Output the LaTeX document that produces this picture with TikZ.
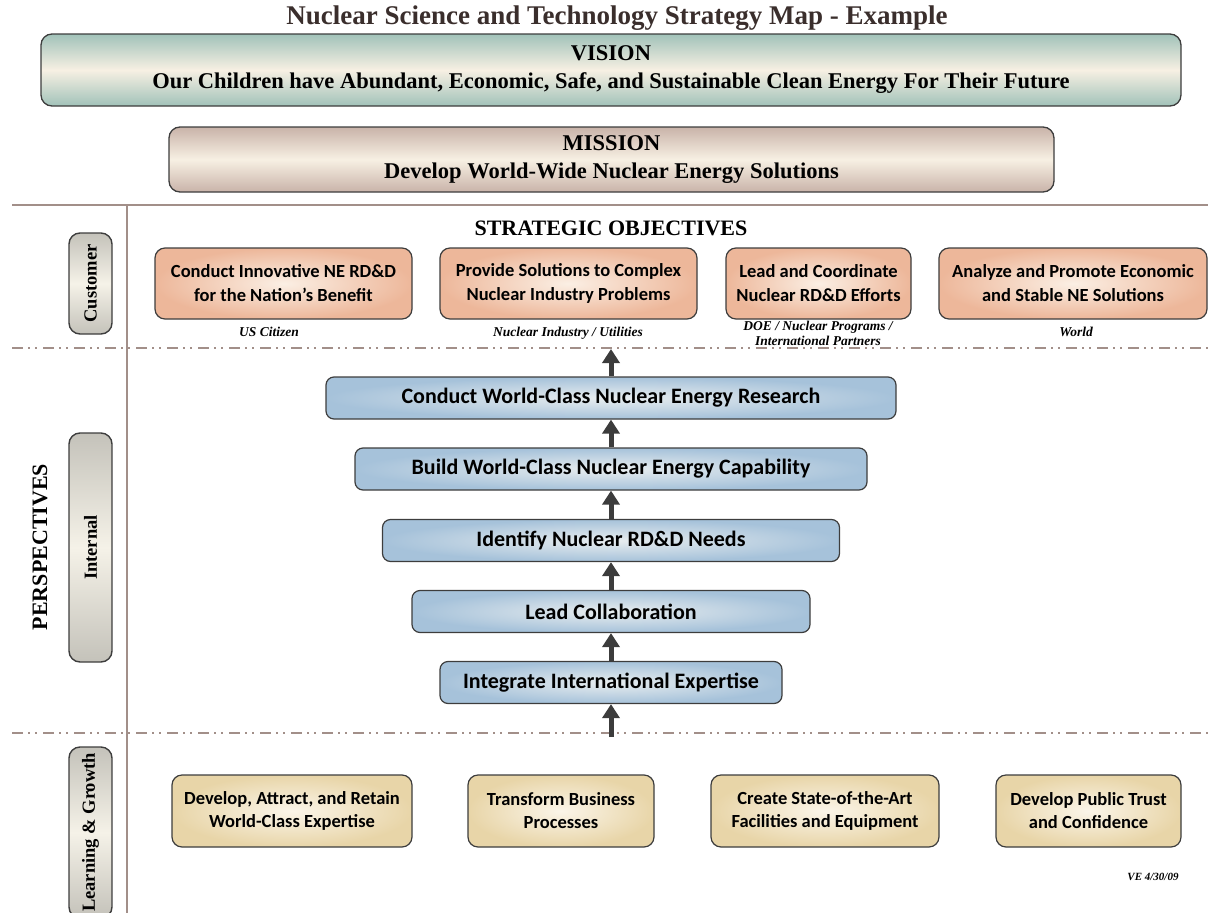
\documentclass[tikz,border=0pt]{standalone}
\usepackage{fontspec}
\setmainfont{Liberation Serif}
\newfontfamily\calfont{Carlito}
\usetikzlibrary{arrows.meta,positioning}

\definecolor{framegray}{HTML}{3D3D3D}
\definecolor{rulebrown}{HTML}{A28F89}
\definecolor{titlebrown}{HTML}{3A2E2C}
\definecolor{visionedge}{HTML}{A1C2B9}
\definecolor{missionedge}{HTML}{C9B3A9}
\definecolor{creamlight}{HTML}{F7F0E3}
\definecolor{custedge}{HTML}{EDB79A}
\definecolor{custmid}{HTML}{FBEFE4}
\definecolor{intedge}{HTML}{A6C2DA}
\definecolor{intmid}{HTML}{E8EDEF}
\definecolor{learnedge}{HTML}{E8D5A8}
\definecolor{learnmid}{HTML}{FBF5E9}
\definecolor{tabedge}{HTML}{C4C2BA}
\definecolor{tabmid}{HTML}{F5F2E8}
\definecolor{arrowgray}{HTML}{3C3C3C}

\tikzset{
  bigbox/.style={draw=framegray, line width=1.3pt, rounded corners=11pt, align=center,
    inner sep=0pt, font=\bfseries\fontsize{22.5}{28}\selectfont},
  objbox/.style={draw=framegray, line width=1.2pt, rounded corners=10pt, align=center,
    inner sep=0pt, minimum height=71pt, inner color=custmid, outer color=custedge,
    font=\calfont\bfseries\fontsize{18.5}{24}\selectfont},
  intbox/.style={draw=framegray, line width=1.2pt, rounded corners=8pt, align=center,
    inner sep=0pt, minimum height=42pt, inner color=intmid, outer color=intedge,
    font=\calfont\bfseries\fontsize{22}{26}\selectfont},
  growbox/.style={draw=framegray, line width=1.2pt, rounded corners=10pt, align=center,
    inner sep=0pt, minimum height=72pt, inner color=learnmid, outer color=learnedge,
    font=\calfont\bfseries\fontsize{18.5}{23}\selectfont},
  tabbox/.style={draw=framegray, line width=1.4pt, rounded corners=11pt, rotate=90,
    inner sep=0pt, minimum height=43pt, top color=tabedge, bottom color=tabedge,
    middle color=tabmid, font=\bfseries\fontsize{18.5}{22}\selectfont},
  capt/.style={align=center, inner sep=0pt, font=\bfseries\itshape\fontsize{13.5}{15}\selectfont},
  sepline/.style={rulebrown, line width=1.3pt,
    dash pattern=on 11pt off 5pt on 2pt off 5pt on 2pt off 6pt},
  uparrow/.style={arrowgray, line width=5pt, -{Triangle[width=17pt,length=14pt]}}
}

\begin{document}
\begin{tikzpicture}[x=1pt,y=-1pt]
    \useasboundingbox (0,0) rectangle (1208,913);
    % title
    \node[inner sep=0pt, text=titlebrown, font=\bfseries\fontsize{27}{30}\selectfont] (title) at (617,18) {Nuclear Science and Technology Strategy Map - Example};
    % vision and mission
    \node[bigbox, top color=visionedge, bottom color=visionedge, middle color=creamlight,
        minimum width=1140pt, minimum height=72pt] (vision) at (611,70)
        {VISION\\Our Children have Abundant, Economic, Safe, and Sustainable Clean Energy For Their Future};
    \node[bigbox, top color=missionedge, bottom color=missionedge, middle color=creamlight,
        minimum width=885pt, minimum height=65pt] (mission) at (611.5,159.5)
        {MISSION\\Develop World-Wide Nuclear Energy Solutions};
    % frame lines
    \draw[rulebrown, line width=1.5pt] (12,205) -- (1208,205); % top
    \draw[rulebrown, line width=1.3pt] (127,205) -- (127,913); % left
    \draw[sepline] (12,348) -- (1208,348); % customer / internal
    \draw[sepline] (12,733) -- (1208,733); % internal / learning
    % perspectives
    \node[rotate=90, inner sep=0pt, font=\bfseries\fontsize{22}{26}\selectfont] (persp) at (40,547) {PERSPECTIVES};
    \node[tabbox, minimum width=101pt] (custtab) at (90.5,283.5) {Customer};
    \node[tabbox, minimum width=229pt] (inttab) at (90.5,547.5) {Internal};
    \node[tabbox, minimum width=171pt] (growtab) at (90.5,832.5) {Learning \& Growth};
    % strategic objectives - customer
    \node[inner sep=0pt, font=\bfseries\fontsize{22}{26}\selectfont] (strat) at (611,228) {STRATEGIC OBJECTIVES};
    \node[objbox, minimum width=257pt] (obj1) at (283.5,283.5) {Conduct Innovative NE RD\&D\\for the Nation’s Benefit};
    \node[objbox, minimum width=257pt] (obj2) at (568.5,283.5) {Provide Solutions to Complex\\Nuclear Industry Problems};
    \node[objbox, minimum width=185pt] (obj3) at (818.5,283.5) {Lead and Coordinate\\Nuclear RD\&D Efforts};
    \node[objbox, minimum width=268pt] (obj4) at (1073,283.5) {Analyze and Promote Economic\\and Stable NE Solutions};
    \node[capt] (cap1) at (269,332) {US Citizen};
    \node[capt] (cap2) at (568,333) {Nuclear Industry / Utilities};
    \node[capt] (cap3) at (818,333.5) {DOE / Nuclear Programs /\\International Partners};
    \node[capt] (cap4) at (1076,332) {World};
    % internal
    \node[intbox, minimum width=570pt] (int1) at (611,398) {Conduct World-Class Nuclear Energy Research};
    \node[intbox, minimum width=512pt] (int2) at (611,469) {Build World-Class Nuclear Energy Capability};
    \node[intbox, minimum width=457pt] (int3) at (611,540.5) {Identify Nuclear RD\&D Needs};
    \node[intbox, minimum width=398pt] (int4) at (611,611.5) {Lead Collaboration};
    \node[intbox, minimum width=342pt] (int5) at (611,682.5) {Integrate International Expertise};
    \coordinate (custline) at (611,349);
    \coordinate (growline) at (611,737);
    % arrows
    \draw[uparrow] (int1.north) -- (custline);
    \draw[uparrow] (int2.north) -- (int1.south);
    \draw[uparrow] (int3.north) -- (int2.south);
    \draw[uparrow] (int4.north) -- (int3.south);
    \draw[uparrow] (int5.north) -- (int4.south);
    \draw[uparrow] (growline) -- (int5.south);
    % learning and growth
    \node[growbox, minimum width=240pt] (grow1) at (292,811) {Develop, Attract, and Retain\\World-Class Expertise};
    \node[growbox, minimum width=186pt] (grow2) at (561,811) {Transform Business\\Processes};
    \node[growbox, minimum width=228pt] (grow3) at (825,811) {Create State-of-the-Art\\Facilities and Equipment};
    \node[growbox, minimum width=185pt] (grow4) at (1088.5,811) {Develop Public Trust\\and Confidence};
    \node[capt, font=\bfseries\itshape\fontsize{11}{13}\selectfont] (stamp) at (1153,877) {VE 4/30/09};
\end{tikzpicture}
\end{document}
